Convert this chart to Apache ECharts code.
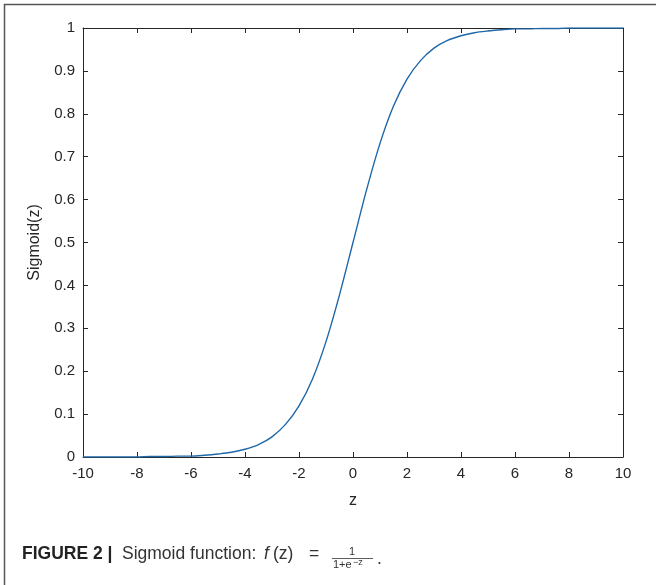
<!DOCTYPE html>
<html>
<head>
<meta charset="utf-8">
<script src="https://cdn.jsdelivr.net/npm/echarts@6/dist/echarts.min.js"></script>
<style>
html, body { margin: 0; padding: 0; background: #fff; }
#main { width: 656px; height: 585px; }
</style>
</head>
<body>
<div id="main"></div>
<script>
// values, z step 0.5
var zVals = [-10, -9.5, -9, -8.5, -8, -7.5, -7, -6.5, -6, -5.5, -5, -4.5, -4, -3.5, -3, -2.5, -2, -1.5, -1, -0.5,
    0, 0.5, 1, 1.5, 2, 2.5, 3, 3.5, 4, 4.5, 5, 5.5, 6, 6.5, 7, 7.5, 8, 8.5, 9, 9.5, 10];
var sigVals = [0.000, 0.000, 0.000, 0.000, 0.000, 0.001, 0.001, 0.002, 0.002, 0.004, 0.007, 0.011, 0.018, 0.029, 0.047, 0.076, 0.119, 0.182, 0.269, 0.378,
    0.500, 0.622, 0.731, 0.818, 0.881, 0.924, 0.953, 0.971, 0.982, 0.989, 0.993, 0.996, 0.998, 0.998, 0.999, 0.999, 1.000, 1.000, 1.000, 1.000, 1.000];

var axisColor = '#262626';
var lineColor = '#1f67a8';
var baseFont = '"Liberation Sans", Arial, sans-serif';
var capColor = '#333';

var points = zVals.map(function (z, i) { return [z, sigVals[i]]; });

function xAx(pos, showLabel) {
    return {
        type: 'value',
        position: pos,
        min: -10,
        max: 10,
        interval: 2,
        name: showLabel ? 'z' : '',
        nameLocation: 'middle',
        nameGap: 36,
        nameTextStyle: { color: axisColor, fontSize: 16, fontFamily: baseFont },
        axisLine: { show: true, onZero: false, lineStyle: { color: axisColor, width: 1 } },
        axisTick: { show: true, inside: true, length: 5, lineStyle: { color: axisColor } },
        axisLabel: { show: showLabel, color: axisColor, fontSize: 15, fontFamily: baseFont, margin: 9 },
        splitLine: { show: false }
    };
}

function yAx(pos, showLabel) {
    return {
        type: 'value',
        position: pos,
        min: 0,
        max: 1,
        interval: 0.1,
        name: showLabel ? 'Sigmoid(z)' : '',
        nameLocation: 'middle',
        nameGap: 40,
        nameTextStyle: { color: axisColor, fontSize: 16, fontFamily: baseFont },
        axisLine: { show: true, onZero: false, lineStyle: { color: axisColor, width: 1 } },
        axisTick: { show: true, inside: true, length: 5, lineStyle: { color: axisColor } },
        axisLabel: { show: showLabel, color: axisColor, fontSize: 15, fontFamily: baseFont, margin: 8 },
        splitLine: { show: false }
    };
}

var option = {
    backgroundColor: '#fff',
    animation: false,
    grid: { left: 83, right: 33, top: 28, bottom: 128 },
    xAxis: [xAx('bottom', true), xAx('top', false)],
    yAxis: [yAx('left', true), yAx('right', false)],
    series: [
        {
            type: 'line',
            data: points,
            xAxisIndex: 0,
            yAxisIndex: 0,
            smooth: 0.3,
            showSymbol: false,
            lineStyle: { color: lineColor, width: 1.4 }
        }
    ],
    graphic: [
        // outer frame
        {
            type: 'rect',
            shape: { x: 4.5, y: 4.5, width: 700, height: 700 },
            style: { fill: 'none', stroke: '#555', lineWidth: 1.5 },
            silent: true
        },
        // caption
        {
            type: 'text', left: 22, top: 545,
            style: { text: 'FIGURE 2 |', fontFamily: baseFont, fontWeight: 'bold', fontSize: 17.5, fill: '#222' }
        },
        {
            type: 'text', left: 122, top: 545,
            style: { text: 'Sigmoid function:', fontFamily: baseFont, fontSize: 17.5, fill: capColor }
        },
        {
            type: 'text', left: 264, top: 545,
            style: { text: 'f', fontFamily: baseFont, fontStyle: 'italic', fontSize: 17.5, fill: capColor }
        },
        {
            type: 'text', left: 273, top: 545,
            style: { text: '(z)', fontFamily: baseFont, fontSize: 17.5, fill: capColor }
        },
        {
            type: 'text', left: 309, top: 545,
            style: { text: '=', fontFamily: baseFont, fontSize: 17.5, fill: capColor }
        },
        {
            type: 'text', left: 349, top: 546,
            style: { text: '1', fontFamily: baseFont, fontSize: 11, fill: capColor }
        },
        {
            type: 'line',
            shape: { x1: 332, y1: 558.5, x2: 373, y2: 558.5 },
            style: { stroke: capColor, lineWidth: 0.8 }
        },
        {
            type: 'text', left: 333, top: 559,
            style: { text: '1+e', fontFamily: baseFont, fontSize: 11, fill: capColor }
        },
        {
            type: 'text', left: 353, top: 558,
            style: { text: '−z', fontFamily: baseFont, fontSize: 9, fill: capColor }
        },
        {
            type: 'text', left: 377, top: 550,
            style: { text: '.', fontFamily: baseFont, fontSize: 17.5, fill: capColor }
        }
    ]
};

var chart = echarts.init(document.getElementById('main'));
chart.setOption(option);
</script>
</body>
</html>
